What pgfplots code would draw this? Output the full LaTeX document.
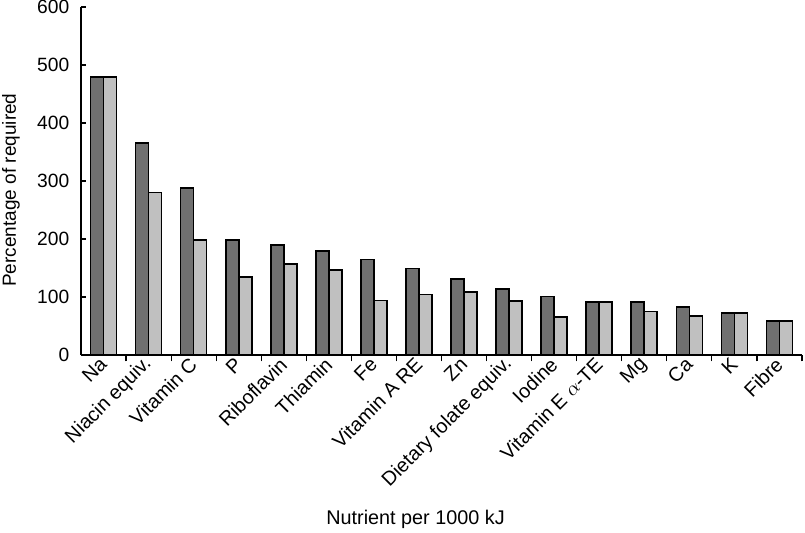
\documentclass[border=0pt]{standalone}
\usepackage{fontspec}
\setmainfont{Liberation Sans}
\usepackage{pgfplots}
\pgfplotsset{compat=1.18}
\definecolor{darkbar}{HTML}{707070}
\definecolor{lightbar}{HTML}{C0C0C0}
\begin{document}
\fontsize{9.5pt}{11pt}\selectfont
\begin{tikzpicture}
\begin{axis}[
  scale only axis,
  width=360.5pt, height=174pt,
  xmin=-0.5, xmax=15.5,
  ymin=0, ymax=600,
  ytick={0,100,...,600},
  xtick={0,...,15},
  xticklabels={Na,Niacin equiv.,Vitamin C,P,Riboflavin,Thiamin,Fe,Vitamin A RE,Zn,Dietary folate equiv.,Iodine,Vitamin E $\alpha$-TE,Mg,Ca,K,Fibre},
  minor xtick={0.5,1.5,...,15.5},
  major x tick style={draw=none},
  tick align=inside,
  major tick length=2.5pt,
  minor tick length=3.2pt,
  axis x line*=bottom,
  axis y line*=left,
  axis line style={-, line width=0.6pt},
  tick style={black, line width=0.6pt},
  xticklabel style={rotate=45, anchor=east, inner sep=0pt, font=\fontsize{9.9pt}{11pt}\selectfont},
  xticklabel shift=0.5pt,
  yticklabel style={font=\fontsize{9.6pt}{11pt}\selectfont},
  yticklabel shift=2.5pt,
  /pgf/number format/assume math mode=true,
  ybar=0pt,
  bar width=6.5pt,
  xlabel={Nutrient per 1000 kJ},
  ylabel={Percentage of required},
  xlabel style={at={(axis description cs:0.464,-0.473)}, anchor=center, font=\fontsize{9.9pt}{11pt}\selectfont},
  ylabel style={at={(axis description cs:-0.097,0.474)}, anchor=center, rotate=0, font=\fontsize{9.5pt}{11pt}\selectfont},
  clip=false,
]
\addplot[fill=darkbar, draw=black, line width=0.8pt] coordinates {
 (0,479) (1,366) (2,288) (3,198) (4,190) (5,179) (6,165) (7,149) (8,131) (9,114) (10,101) (11,91) (12,91) (13,83) (14,72) (15,59)};
\addplot[fill=lightbar, draw=black, line width=0.8pt] coordinates {
 (0,479) (1,280) (2,198) (3,134) (4,157) (5,147) (6,94) (7,104) (8,109) (9,93) (10,66) (11,91) (12,75) (13,67) (14,72) (15,59)};
\end{axis}
\pgfresetboundingbox
\path (-40.5pt,-88.5pt) rectangle (362pt,177.5pt);
\end{tikzpicture}
\end{document}
